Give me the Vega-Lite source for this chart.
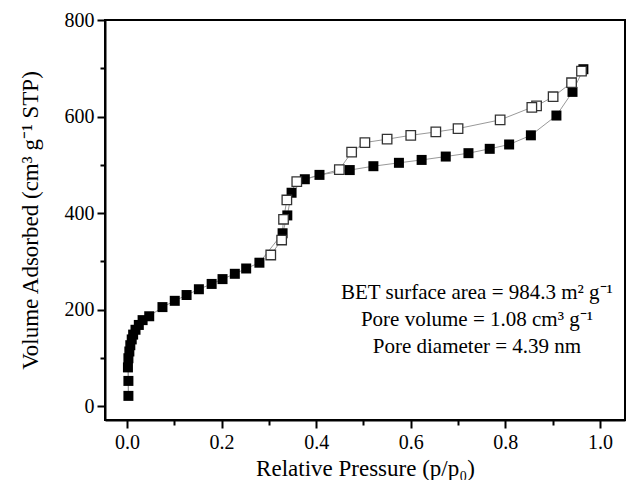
{
  "$schema": "https://vega.github.io/schema/vega-lite/v6.json",
  "width": 520,
  "height": 400,
  "autosize": "none",
  "padding": {"left": 105, "top": 20, "right": 2, "bottom": 60},
  "config": {
    "font": "Liberation Serif",
    "view": {"stroke": "black", "strokeWidth": 2},
    "axis": {
      "domainColor": "black", "domainWidth": 2, "tickColor": "black", "tickWidth": 2,
      "grid": false, "labelFont": "Liberation Serif", "titleFont": "Liberation Serif",
      "labelFontSize": 20, "titleFontSize": 23, "labelColor": "black", "titleColor": "black",
      "titleFontWeight": "normal"
    }
  },
  "data": {"values": [
    {"p": 0.003, "v": 21, "branch": "ads"},
    {"p": 0.003, "v": 52, "branch": "ads"},
    {"p": 0.002, "v": 80, "branch": "ads"},
    {"p": 0.003, "v": 99, "branch": "ads"},
    {"p": 0.005, "v": 113, "branch": "ads"},
    {"p": 0.007, "v": 126, "branch": "ads"},
    {"p": 0.010, "v": 138, "branch": "ads"},
    {"p": 0.013, "v": 148, "branch": "ads"},
    {"p": 0.018, "v": 158, "branch": "ads"},
    {"p": 0.025, "v": 168, "branch": "ads"},
    {"p": 0.033, "v": 178, "branch": "ads"},
    {"p": 0.047, "v": 186, "branch": "ads"},
    {"p": 0.075, "v": 205, "branch": "ads"},
    {"p": 0.101, "v": 218, "branch": "ads"},
    {"p": 0.126, "v": 230, "branch": "ads"},
    {"p": 0.152, "v": 242, "branch": "ads"},
    {"p": 0.179, "v": 253, "branch": "ads"},
    {"p": 0.202, "v": 263, "branch": "ads"},
    {"p": 0.228, "v": 274, "branch": "ads"},
    {"p": 0.252, "v": 285, "branch": "ads"},
    {"p": 0.280, "v": 297, "branch": "ads"},
    {"p": 0.329, "v": 358, "branch": "ads"},
    {"p": 0.339, "v": 395, "branch": "ads"},
    {"p": 0.348, "v": 442, "branch": "ads"},
    {"p": 0.376, "v": 470, "branch": "ads"},
    {"p": 0.407, "v": 479, "branch": "ads"},
    {"p": 0.471, "v": 489, "branch": "ads"},
    {"p": 0.521, "v": 497, "branch": "ads"},
    {"p": 0.575, "v": 504, "branch": "ads"},
    {"p": 0.623, "v": 510, "branch": "ads"},
    {"p": 0.674, "v": 517, "branch": "ads"},
    {"p": 0.722, "v": 524, "branch": "ads"},
    {"p": 0.767, "v": 533, "branch": "ads"},
    {"p": 0.808, "v": 542, "branch": "ads"},
    {"p": 0.854, "v": 561, "branch": "ads"},
    {"p": 0.908, "v": 602, "branch": "ads"},
    {"p": 0.942, "v": 651, "branch": "ads"},
    {"p": 0.965, "v": 698, "branch": "ads"},
    {"p": 0.961, "v": 694, "branch": "des"},
    {"p": 0.940, "v": 670, "branch": "des"},
    {"p": 0.901, "v": 641, "branch": "des"},
    {"p": 0.866, "v": 622, "branch": "des"},
    {"p": 0.856, "v": 619, "branch": "des"},
    {"p": 0.789, "v": 593, "branch": "des"},
    {"p": 0.700, "v": 575, "branch": "des"},
    {"p": 0.653, "v": 568, "branch": "des"},
    {"p": 0.600, "v": 561, "branch": "des"},
    {"p": 0.550, "v": 553, "branch": "des"},
    {"p": 0.503, "v": 546, "branch": "des"},
    {"p": 0.475, "v": 526, "branch": "des"},
    {"p": 0.449, "v": 490, "branch": "des"},
    {"p": 0.359, "v": 465, "branch": "des"},
    {"p": 0.338, "v": 427, "branch": "des"},
    {"p": 0.331, "v": 387, "branch": "des"},
    {"p": 0.327, "v": 344, "branch": "des"},
    {"p": 0.304, "v": 313, "branch": "des"}
  ]},
  "layer": [
    {
      "mark": {"type": "line", "color": "#999999", "strokeWidth": 1},
      "encoding": {
        "x": {
          "field": "p", "type": "quantitative",
          "scale": {"domain": [-0.0465, 1.053], "nice": false, "zero": false},
          "axis": {
            "title": "Relative Pressure (p/p₀)",
            "values": [0, 0.1, 0.2, 0.3, 0.4, 0.5, 0.6, 0.7, 0.8, 0.9, 1.0],
            "labelExpr": "round(datum.value*10) % 2 === 0 ? format(datum.value, '.1f') : ''",
            "tickSize": {"condition": {"test": "round(datum.value*10) % 2 === 0", "value": 8}, "value": 5},
            "labelPadding": 4, "titlePadding": 5
          }
        },
        "y": {
          "field": "v", "type": "quantitative",
          "scale": {"domain": [-29, 800], "nice": false, "zero": false},
          "axis": {
            "title": "Volume Adsorbed (cm³ g⁻¹ STP)",
            "values": [0, 100, 200, 300, 400, 500, 600, 700, 800],
            "labelExpr": "datum.value % 200 === 0 ? datum.label : ''",
            "tickSize": {"condition": {"test": "datum.value % 200 === 0", "value": 8}, "value": 5},
            "labelPadding": 3, "titlePadding": 22
          }
        },
        "detail": {"field": "branch"},
        "order": {"field": "p", "type": "quantitative"}
      }
    },
    {
      "transform": [{"filter": "datum.branch === 'ads'"}],
      "mark": {"type": "point", "shape": "square", "filled": true, "size": 100, "color": "black", "opacity": 1},
      "encoding": {
        "x": {"field": "p", "type": "quantitative"},
        "y": {"field": "v", "type": "quantitative"}
      }
    },
    {
      "transform": [{"filter": "datum.branch === 'des'"}],
      "mark": {"type": "point", "shape": "square", "filled": true, "size": 90, "fill": "white", "stroke": "#333333", "strokeWidth": 1.3, "opacity": 1},
      "encoding": {
        "x": {"field": "p", "type": "quantitative"},
        "y": {"field": "v", "type": "quantitative"}
      }
    },
    {
      "transform": [{"aggregate": [{"op": "count", "as": "n"}]}],
      "mark": {"type": "text", "font": "Liberation Serif", "fontSize": 21, "align": "center", "baseline": "alphabetic", "lineHeight": 27, "fill": "black"},
      "encoding": {
        "x": {"datum": 0.74, "type": "quantitative"},
        "y": {"datum": 222, "type": "quantitative"},
        "text": {"value": ["BET surface area = 984.3 m² g⁻¹", "Pore volume = 1.08 cm³ g⁻¹", "Pore diameter = 4.39 nm"]}
      }
    }
  ]
}
